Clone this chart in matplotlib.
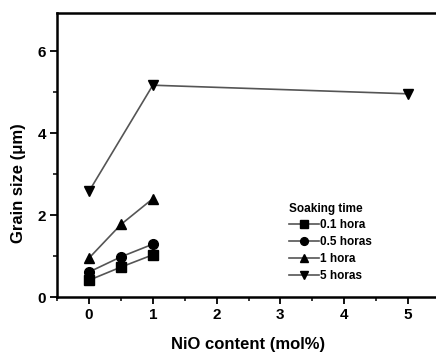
import matplotlib.pyplot as plt
from matplotlib.ticker import MultipleLocator

plt.rcParams['font.family'] = ['Liberation Sans', 'DejaVu Sans']
plt.rcParams['font.weight'] = 'bold'

# grain size vs NiO content, for each soaking time
nio_short = [0, 0.5, 1]
nio_long = [0, 1, 5]
size_01h = [0.41, 0.73, 1.03]
size_05h = [0.61, 0.98, 1.29]
size_1h = [0.95, 1.77, 2.40]
size_5h = [2.58, 5.17, 4.96]
labels = ["0.1 hora", "0.5 horas", "1 hora", "5 horas"]

fig = plt.figure(figsize=(4.36, 3.54), dpi=100)
ax = fig.add_axes([0.131, 0.161, 0.878, 0.802])

kw = dict(color="#555555", lw=1.2, mfc="black", mec="black", ms=7)
ax.plot(nio_short, size_01h, marker="s", label=labels[0], **kw)
ax.plot(nio_short, size_05h, marker="o", label=labels[1], **kw)
ax.plot(nio_short, size_1h, marker="^", label=labels[2], **kw)
ax.plot(nio_long, size_5h, marker="v", label=labels[3], **kw)

ax.set_xlim(-0.5, 5.5)
ax.set_ylim(0, 6.93)
ax.xaxis.set_major_locator(MultipleLocator(1))
ax.xaxis.set_minor_locator(MultipleLocator(0.5))
ax.yaxis.set_major_locator(MultipleLocator(2))
ax.yaxis.set_minor_locator(MultipleLocator(1))
ax.tick_params(which="major", direction="out", length=5, width=1.3, labelsize=11, pad=3)
ax.tick_params(which="minor", direction="out", length=3, width=1.1)
for s in ax.spines.values():
    s.set_linewidth(1.8)

ax.set_xlabel("NiO content (mol%)", fontsize=12, fontweight="bold")
ax.set_ylabel("Grain size (\u03bcm)", fontsize=12, fontweight="bold")
ax.xaxis.set_label_coords(0.5, -0.14)
ax.yaxis.set_label_coords(-0.08, 0.40)

leg = ax.legend(title="Soaking time", loc="lower left", bbox_to_anchor=(0.585, 0.025),
                frameon=False, prop={"size": 8.5, "weight": "bold"},
                title_fontproperties={"size": 8.5, "weight": "bold"},
                handlelength=2.5, handletextpad=0.1, labelspacing=0.4, borderpad=0.2,
                markerscale=0.8)
leg._legend_box.align = "left"

fig.savefig("out.png", dpi=100)
